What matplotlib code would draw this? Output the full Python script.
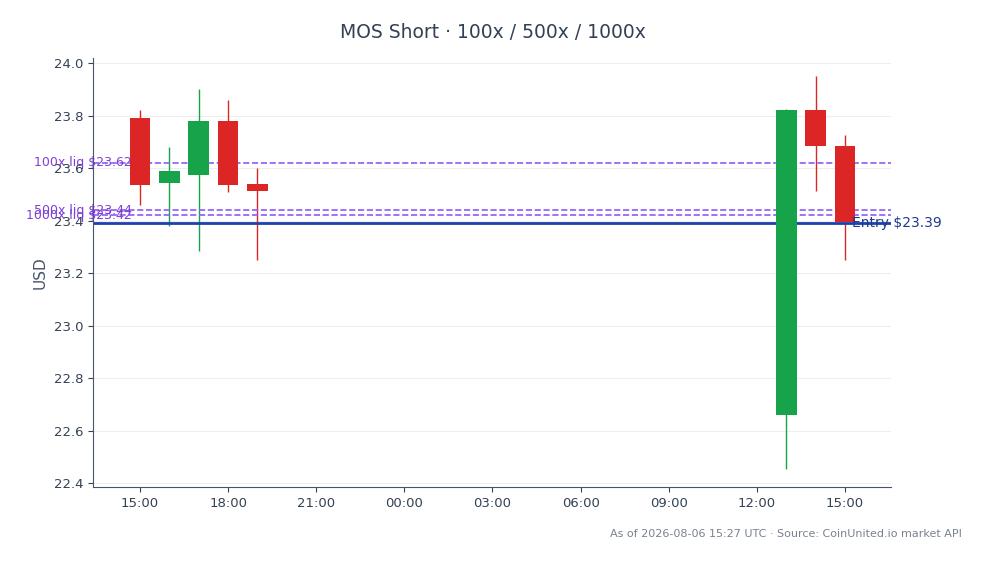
import matplotlib
matplotlib.use("Agg")
import matplotlib.pyplot as plt
import matplotlib.dates as mdates
import numpy as np
import pandas as pd

times = pd.to_datetime(["2026-08-05 15:00", "2026-08-05 16:00", "2026-08-05 17:00",
                        "2026-08-05 18:00", "2026-08-05 19:00", "2026-08-06 13:00",
                        "2026-08-06 14:00", "2026-08-06 15:00"])
opens = [23.79, 23.545, 23.575, 23.78, 23.54, 22.66, 23.82, 23.685]
closes = [23.535, 23.59, 23.78, 23.535, 23.515, 23.82, 23.685, 23.395]
highs = [23.82, 23.68, 23.90, 23.86, 23.60, 23.825, 23.95, 23.725]
lows = [23.46, 23.38, 23.285, 23.51, 23.25, 22.455, 23.515, 23.25]

entry = 23.39
liqs = [("100x liq $23.62", 23.62), ("500x liq $23.44", 23.44), ("1000x liq $23.42", 23.42)]

fig = plt.figure(figsize=(9.86, 5.64), dpi=100)
ax = fig.add_axes([93 / 986, 1 - 487 / 564, (891 - 93) / 986, (487 - 58) / 564])

up, down = "#16a34a", "#dc2626"
w = 0.7 / 24
for t, o, c, h, l in zip(times, opens, closes, highs, lows):
    col = up if c >= o else down
    x = mdates.date2num(t)
    ax.vlines(x, l, h, color=col, lw=1)
    ax.bar(x, abs(c - o), bottom=min(o, c), width=w, color=col, zorder=3)

for lab, v in liqs:
    ax.axhline(v, color="#8b5cf6", ls="--", lw=1.2)
    ax.text(0.049, v, lab, transform=ax.get_yaxis_transform(), color="#7e3fd6",
            fontsize=9, va="center", ha="right")
ax.axhline(entry, color="#1e40af", lw=2)
ax.text(0.951, entry, "Entry $23.39", transform=ax.get_yaxis_transform(), color="#1e3a8a",
        fontsize=10, va="center", ha="left")

x0 = mdates.date2num(pd.Timestamp("2026-08-05 13:24"))
x1 = mdates.date2num(pd.Timestamp("2026-08-06 16:34"))
ax.set_xlim(x0, x1)
ax.set_ylim(22.385, 24.02)
ax.xaxis.set_major_locator(mdates.HourLocator(byhour=range(0, 24, 3)))
ax.xaxis.set_major_formatter(mdates.DateFormatter("%H:%M"))
ax.set_yticks(np.arange(22.4, 24.01, 0.2))
ax.grid(axis="y", color="#eeeeee", lw=0.8)
ax.set_axisbelow(True)
for s in ["top", "right"]:
    ax.spines[s].set_visible(False)
for s in ["left", "bottom"]:
    ax.spines[s].set_color("#475569")
ax.tick_params(colors="#334155", labelsize=9.5)
ax.set_ylabel("USD", color="#475569", fontsize=11)

fig.suptitle("MOS Short · 100x / 500x / 1000x", y=0.96, fontsize=13.5, color="#334155")
fig.text(0.976, 0.047, "As of 2026-08-06 15:27 UTC · Source: CoinUnited.io market API",
         ha="right", fontsize=8, color="#7a8290")

fig.savefig("out.png")
